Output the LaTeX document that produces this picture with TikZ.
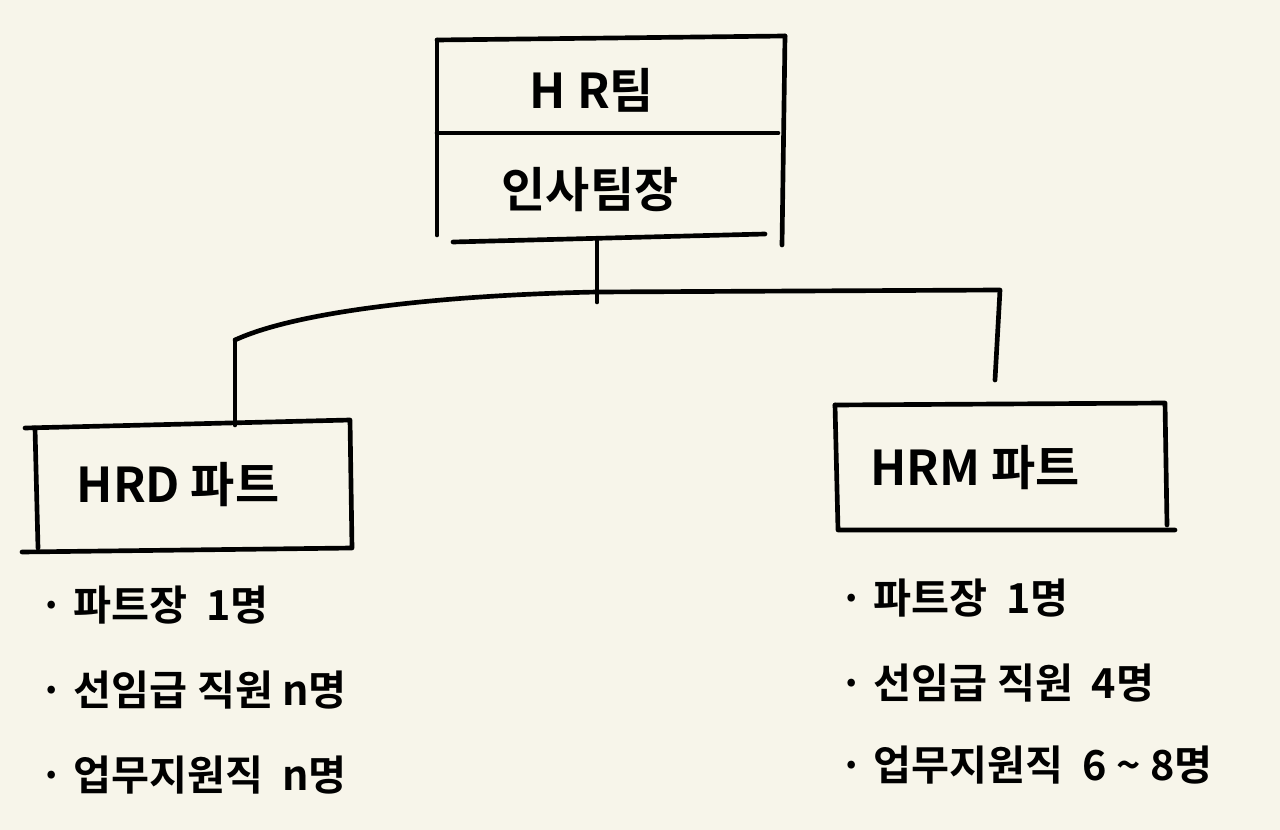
\documentclass[tikz,border=0pt]{standalone}
\usepackage{fontspec}
\newfontfamily\kr{Noto Sans CJK KR Bold}
\begin{document}
\begin{tikzpicture}[x=0.75pt,y=-0.75pt,
  ln/.style={line width=3.5pt,line cap=round,line join=round},
  big/.style={font=\kr\fontsize{36}{40}\selectfont},
  item/.style={font=\kr\fontsize{31}{34}\selectfont,anchor=west}]
\fill[fill={rgb,255:red,247;green,245;blue,234}] (0,0) rectangle (1280,830);
\useasboundingbox (0,0) rectangle (1280,830);
% top box
\draw[ln] (437,40) -- (437,235);
\draw[ln] (437,40) -- (785,36);
\draw[ln] (785,36) -- (782,245);
\draw[ln] (437,133) -- (778,133);
\draw[ln] (453,242) -- (765,234);
\node[big] (hr) at (592,90) {H R팀};
\node[big] (lead) at (590,190) {인사팀장};
\coordinate (t) at (597,240);
\coordinate (j) at (597,292);
\coordinate (l) at (235,340);
\coordinate (r) at (1000,290);
\draw[ln] (t) -- (597,302);
\draw[ln] (l) .. controls (300,310) and (450,295) .. (j) -- (r) -- (995,380);
\draw[ln] (l) -- (235,425);
% left box
\draw[ln] (25,428) -- (350,420) -- (352,548) -- (22,552);
\draw[ln] (35,428) -- (38,548);
\node[big] (hrd) at (178,485) {HRD 파트};
% right box
\draw[ln] (835,405) -- (1165,403) -- (1167,525);
\draw[ln] (835,405) -- (838,530) -- (1175,530);
\node[big] (hrm) at (975,468) {HRM 파트};
% lists
\node[item] (a1) at (35,605) {· 파트장\ \ 1명};
\node[item] (a2) at (35,690) {· 선임급\ 직원\ n명};
\node[item] (a3) at (35,775) {· 업무지원직\ \ n명};
\node[item] (b1) at (835,598) {· 파트장\ \ 1명};
\node[item] (b2) at (835,683) {· 선임급\ 직원\ \ 4명};
\node[item] (b3) at (835,765) {· 업무지원직\ \ 6 \textasciitilde\ 8명};
\end{tikzpicture}
\end{document}
